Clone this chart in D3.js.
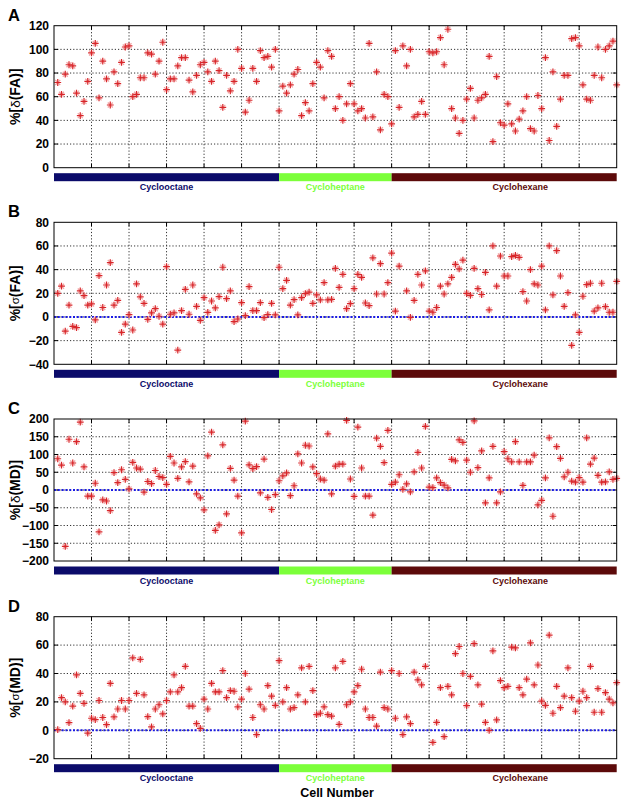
<!DOCTYPE html>
<html>
<head>
<meta charset="utf-8">
<script src="https://cdn.jsdelivr.net/npm/d3@7"></script>
<style>
  html, body { margin: 0; padding: 0; background: #fff; }
  svg { display: block; font-family: "Liberation Sans", Arial, sans-serif; }
</style>
</head>
<body>
<svg id="chart" width="629" height="806"></svg>
<script>
// ---------------- DATA ----------------
// Values for cells 1..150 (index i -> cell i+1); null = no point shown
const faMean = [72,62,79,87,86,63,44,56,73,97, 105,59,90,75,53,81,71,89,102,103,
  60,62,76,76,97,96,79,90,106,66, 75,75,86,93,93,74,64,78,87,89,
  81,73,90,82,51,78,65,73,100,84, 47,57,84,73,99,93,94,85,100,48,
  69,63,70,79,83,44,55,48,71,89, 85,59,99,94,50,60,40,54,71,54,
  48,50,42,105,43,81,32,62,60,37, 99,51,103,86,100,43,45,56,45,98,
  97,98,110,87,117,50,42,29,40,58, 67,42,57,59,62,94,22,77,38,36,
  54,37,31,41,48,60,33,31,61,50, 93,23,81,35,58,78,78,109,110,103,
  70,58,57,78,102,76,100,103,107,70];

const faSd = [20,26,-12,10,-8,-9,22,18,10,11, -2.5,35,8,27,46,10,14,-13,-6,2,
  -11,28,17,11.5,-2,3.4,7,0.6,-6,42.5, 2.3,3.4,-28,5.4,23.4,2.3,27,9,-2.8,16.3,
  3.9,13.5,7.6,17.2,42,15.5,22,-3.9,-1.7,12.1, 1.1,25.6,5.4,5.4,12.1,-0.6,2,11.5,1.7,42,
  24,31,10,14.6,1.7,16.3,19.7,21,11.5,18.6, 14.4,29,14.4,14.9,41,25,36,7,11.3,24,
  36,33.5,11.8,9.6,50,19.4,45,19.4,29,54, 5,43,null,22,-0.3,14,36,27,39,5,
  4,8,26,19.4,28,33.5,44.5,40.6,48,20, 18.3,41,24,19,37.7,6,60,26,51.5,34.6,
  34.6,51,52,50.4,21.4,13.5,40,28,27,43, 6,60,18.6,56,34.6,9,20.6,-24,1.7,-13,
  17.5,27.3,28.5,5,7.6,28.5,8.7,4,4,30];

const mdMean = [88,70,-159,143,76,136,191,65,-17,-17, 19,-118,-28,-31,-58,49,21,57,30,3,
  78,62,59,-6,24,18,55,38,35,16, 95,76,33,65,80,23,67,-11,-22,-56,
  96,163,-114,-98,127,-67,61,28,-17,-121, 194,71,60,66,-8,87,-21,-55,-13,26,
  40,48,-16,12,102,76,126,124,65,46, 31,28,158,-11,67,73,73,196,31,-18,
  177,62,-17,-17,-71,146,123,77,168,16, 22,43,2,17,-5,51,106,62,179,8,
  6.5,34,21,14,6,86,82,141,134,84, 50,195,63,110,-36,34,123,-36,-5,108,
  88,79,136,79,13,79,79,98,-42,-29, 34,147,-74,122,89,37,50,25,22,35,
  22,147,73,90,41,22,23,51,30,33];

const mdSd = [0.5,23,20,5.4,17,39,26,19,-2,8.5, 7.5,21,9,4,33,9.4,15,21,15,21,
  51,26,50,25,9.6,2.4,15,18,11.5,21, 27,39,27,30,45,17,17,4.7,1.4,22,
  15,33,27,27,42,23,28,27.5,16.5,22, 40,29,9,-3,18,15,31.5,24,17.6,49,
  20,30,15,16,25,44,20,45,28,11, 12,16.5,11,10,44,4.2,48.5,18,20,27,
  31.5,43,15,9,9,3,41,16,15,42, 8.5,40,-3,9.4,4.7,41,35.5,32,45,null,
  -8.5,5.6,30,-4.5,31,25,54,59,40,17.4, 38,61,32,18.4,5.6,0,56,7.3,35,30,
  31,58.6,58,30,25,36,61.6,32,46,20.5, 17.6,67,12,31,16,24,44,23,13.4,20.5,
  27.5,23,45,12.7,29.4,12.7,26.6,22,19.3,33.6];

const panelLetters = ["A", "B", "C", "D"];
const yLabelPre = ["%[", "%[", "%[", "%["];
const yLabelSym = ["δ", "σ", "δ", "σ"];
const yLabelPost = ["(FA)]", "(FA)]", "(MD)]", "(MD)]"];
const yDomains = [[0, 120], [-40, 80], [-200, 200], [-20, 80]];
const yTickValues = [
  [0, 20, 40, 60, 80, 100, 120],
  [-40, -20, 0, 20, 40, 60, 80],
  [-200, -150, -100, -50, 0, 50, 100, 150, 200],
  [-20, 0, 20, 40, 60, 80]
];
const showZeroLine = [false, true, true, true];
const xTickValues = [10, 20, 30, 40, 50, 60, 70, 80, 90, 100, 110, 120, 130, 140];

const groups = ["Cyclooctane", "Cycloheptane", "Cyclohexane"];
const groupStart = [0, 60, 90];
const groupEnd = [60, 90, 150];
const groupLabelAt = [30, 75, 124.3];
const groupColors = ["#0b0b6a", "#7cff3a", "#5c0a0a"];

const xTitle = "Cell Number";
const seriesList = [faMean, faSd, mdMean, mdSd];

// ---------------- LAYOUT ----------------
const svg = d3.select("#chart");
const left = 54, right = 616.7, panelH = 142;
const panelTops = [25.7, 222.3, 419, 616.7];
const x = d3.scaleLinear().domain([0, 150]).range([left, right]);

seriesList.forEach((vals, p) => {
  const top = panelTops[p], bottom = top + panelH;
  const y = d3.scaleLinear().domain(yDomains[p]).range([bottom, top]);
  const g = svg.append("g");

  // grid lines
  g.selectAll("line.vg").data(xTickValues).join("line")
    .attr("x1", d => x(d)).attr("x2", d => x(d))
    .attr("y1", top).attr("y2", bottom)
    .attr("stroke", "#333").attr("stroke-width", 1).attr("stroke-dasharray", "1.2,2");
  const innerY = yTickValues[p].slice(1, -1);
  g.selectAll("line.hg").data(innerY).join("line")
    .attr("x1", left).attr("x2", right)
    .attr("y1", d => y(d)).attr("y2", d => y(d))
    .attr("stroke", "#333").attr("stroke-width", 1).attr("stroke-dasharray", "1.2,2");

  // inner tick marks (MATLAB style)
  const tl = 4;
  xTickValues.forEach(v => {
    g.append("line").attr("x1", x(v)).attr("x2", x(v)).attr("y1", bottom).attr("y2", bottom - tl)
      .attr("stroke", "#000").attr("stroke-width", 1);
    g.append("line").attr("x1", x(v)).attr("x2", x(v)).attr("y1", top).attr("y2", top + tl)
      .attr("stroke", "#000").attr("stroke-width", 1);
  });
  innerY.forEach(v => {
    g.append("line").attr("x1", left).attr("x2", left + tl).attr("y1", y(v)).attr("y2", y(v))
      .attr("stroke", "#000").attr("stroke-width", 1);
    g.append("line").attr("x1", right).attr("x2", right - tl).attr("y1", y(v)).attr("y2", y(v))
      .attr("stroke", "#000").attr("stroke-width", 1);
  });

  // y axis labels via d3 axis
  const yAxis = d3.axisLeft(y).tickValues(yTickValues[p]).tickSize(0).tickPadding(5);
  const ya = g.append("g").attr("transform", `translate(${left},0)`).call(yAxis);
  ya.select(".domain").remove();
  ya.selectAll("text")
    .attr("font-family", "'Liberation Sans', Arial, sans-serif")
    .attr("font-size", 12).attr("font-weight", "bold").attr("fill", "#000");

  // zero line
  if (showZeroLine[p]) {
    g.append("line").attr("x1", left).attr("x2", right)
      .attr("y1", y(0)).attr("y2", y(0))
      .attr("stroke", "#1a1ae6").attr("stroke-width", 2).attr("stroke-dasharray", "2,1.8");
  }

  // markers (MATLAB '*' style)
  const pts = vals.map((v, i) => ({ c: i + 1, v })).filter(d => d.v !== null);
  const mk = g.append("g");
  const plusPath = "M-3.4,0H3.4M0,-3.4V3.4";
  const crossPath = "M-2.5,-2.5L2.5,2.5M-2.5,2.5L2.5,-2.5";
  mk.selectAll("path.cx").data(pts).join("path")
    .attr("transform", d => `translate(${x(d.c)},${y(d.v)})`)
    .attr("d", crossPath).attr("stroke", "#f2a3a3").attr("stroke-width", 1.3).attr("fill", "none");
  mk.selectAll("path.pl").data(pts).join("path")
    .attr("transform", d => `translate(${x(d.c)},${y(d.v)})`)
    .attr("d", plusPath).attr("stroke", "#d8262a").attr("stroke-width", 1.2).attr("fill", "none");

  // frame
  g.append("rect").attr("x", left).attr("y", top).attr("width", right - left).attr("height", panelH)
    .attr("fill", "none").attr("stroke", "#000").attr("stroke-width", 1);

  // panel letter
  g.append("text").attr("x", 8).attr("y", top - 5)
    .attr("font-size", 16.5).attr("font-weight", "bold").text(panelLetters[p]);

  // y title
  const yt = g.append("text")
    .attr("transform", `translate(14.5,${(top + bottom) / 2}) rotate(-90)`)
    .attr("text-anchor", "middle").attr("dominant-baseline", "central")
    .attr("font-size", 14).attr("font-weight", "bold");
  yt.append("tspan").text(yLabelPre[p]);
  yt.append("tspan").attr("font-weight", "normal").attr("font-size", p % 2 === 1 ? 11.5 : 13.5).text(yLabelSym[p]);
  yt.append("tspan").text(yLabelPost[p]);

  // group color bars
  const barY = bottom + 5.5, barH = 8;
  groups.forEach((name, k) => {
    g.append("rect").attr("x", x(groupStart[k])).attr("y", barY)
      .attr("width", x(groupEnd[k]) - x(groupStart[k])).attr("height", barH)
      .attr("fill", groupColors[k]);
    g.append("text").attr("x", x(groupLabelAt[k])).attr("y", barY + barH + 9)
      .attr("text-anchor", "middle").attr("font-size", 9).attr("font-weight", "bold")
      .attr("fill", groupColors[k]).text(name);
  });
});

svg.append("text").attr("x", 337).attr("y", 797).attr("text-anchor", "middle")
  .attr("font-size", 12.5).attr("font-weight", "bold").text(xTitle);
</script>
</body>
</html>
